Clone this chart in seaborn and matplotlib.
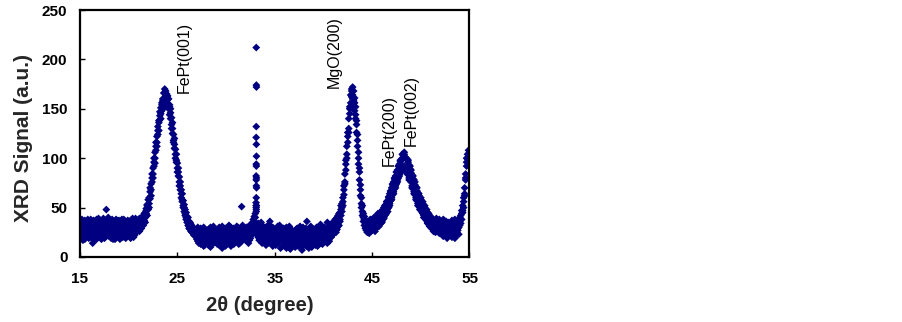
import numpy as np
import pandas as pd
import matplotlib
matplotlib.use("Agg")
import matplotlib.pyplot as plt
import seaborn as sns

# ---------------- data ----------------
two_theta = np.round(np.arange(150, 551) / 10, 1)   # scan axis, 0.1 deg steps

scan_a = [
    28, 35, 22, 31, 19, 37, 26, 30, 24, 33,
    21, 29, 36, 14, 27, 32, 23, 38, 25, 30,
    34, 20, 27, 31, 39, 24, 29, 48, 22, 33,
    26, 36, 19, 30, 28, 35, 23, 31, 37, 21,
    29, 33, 25, 38, 20, 31, 27, 35, 24, 30,
    36, 22, 32, 28, 39, 25, 33, 30, 27, 37,
    30, 35, 28, 38, 33, 41, 37, 45, 44, 52,
    50, 60, 59, 74, 76, 90, 92, 106, 108, 122,
    124, 138, 139, 151, 148, 160, 155, 166, 158, 165,
    163, 152, 154, 140, 141, 125, 124, 110, 109, 96,
    95, 82, 81, 68, 68, 56, 57, 46, 48, 38,
    41, 32, 36, 28, 33, 25, 30, 22, 28, 21,
    18, 26, 14, 23, 29, 17, 21, 27, 12, 24,
    20, 15, 28, 22, 10, 25, 19, 31, 16, 23,
    27, 13, 21, 30, 18, 24, 9, 22, 28, 17,
    21, 26, 15, 32, 20, 11, 25, 19, 29, 22,
    16, 24, 30, 19, 27, 22, 51, 18, 26, 21,
    28, 19, 25, 31, 17, 30, 22, 35, 38, 41,
    44, 48, 26, 20, 31, 18, 27, 14, 30, 22,
    25, 12, 29, 19, 33, 16, 24, 28, 11, 22,
    18, 27, 13, 31, 20, 24, 9, 26, 17, 29,
    15, 23, 30, 12, 21, 27, 8, 19, 25, 16,
    22, 10, 28, 17, 24, 13, 31, 20, 7, 26,
    18, 25, 14, 36, 21, 9, 27, 16, 23, 12,
    28, 15, 22, 30, 11, 25, 19, 33, 14, 24,
    21, 30, 16, 27, 35, 19, 29, 24, 33, 27,
    35, 24, 38, 27, 40, 31, 44, 38, 52, 46,
    60, 63, 84, 88, 112, 116, 140, 145, 164, 162,
    172, 158, 161, 140, 138, 112, 106, 78, 73, 50,
    52, 36, 41, 29, 36, 25, 33, 24, 38, 26,
    38, 28, 40, 26, 41, 30, 44, 31, 45, 34,
    44, 38, 50, 42, 53, 45, 57, 50, 64, 57,
    70, 63, 76, 69, 82, 74, 88, 80, 94, 86,
    98, 91, 103, 92, 101, 90, 99, 86, 93, 79,
    85, 72, 79, 66, 73, 60, 67, 54, 62, 50,
    58, 46, 54, 42, 50, 40, 46, 35, 43, 32,
    40, 29, 38, 26, 36, 25, 39, 28, 34, 24,
    36, 25, 33, 21, 37, 27, 30, 19, 35, 28,
    26, 34, 20, 31, 24, 38, 22, 33, 27, 35,
    40, 34, 47, 45, 60, 62, 84, 92, 104, 98,
    104,
]

scan_b = [
    20, 31, 38, 25, 33, 18, 29, 36, 22, 27,
    34, 24, 19, 30, 37, 22, 33, 18, 29, 39,
    23, 30, 18, 35, 26, 33, 20, 28, 36, 25,
    32, 22, 28, 38, 18, 26, 34, 21, 29, 24,
    37, 18, 31, 24, 35, 22, 29, 19, 33, 26,
    24, 34, 19, 31, 25, 36, 22, 39, 31, 26,
    36, 26, 38, 29, 41, 32, 44, 35, 49, 42,
    58, 50, 70, 62, 84, 80, 100, 95, 116, 112,
    132, 128, 147, 140, 156, 150, 166, 152, 168, 154,
    154, 160, 144, 150, 130, 136, 116, 120, 100, 104,
    86, 90, 72, 76, 60, 64, 50, 53, 42, 45,
    35, 40, 29, 35, 26, 31, 24, 29, 22, 27,
    24, 16, 28, 20, 13, 26, 18, 30, 22, 15,
    27, 19, 12, 24, 30, 17, 22, 14, 26, 20,
    15, 25, 19, 12, 27, 21, 31, 16, 24, 11,
    25, 18, 29, 14, 23, 30, 17, 26, 13, 28,
    22, 31, 17, 26, 14, 29, 23, 32, 19, 27,
    17, 27, 21, 14, 28, 19, 33, 24, 29, 33,
    35, 46, 22, 33, 17, 28, 35, 20, 26, 15,
    30, 20, 14, 27, 22, 36, 18, 13, 30, 25,
    23, 12, 28, 20, 15, 32, 22, 17, 11, 24,
    28, 17, 9, 25, 18, 31, 22, 13, 27, 20,
    13, 26, 20, 29, 11, 22, 17, 25, 19, 30,
    24, 12, 29, 19, 27, 15, 22, 31, 10, 20,
    16, 26, 20, 13, 28, 22, 17, 29, 24, 20,
    28, 17, 26, 21, 14, 30, 22, 33, 20, 31,
    26, 36, 30, 38, 28, 42, 32, 36, 42, 54,
    52, 72, 74, 98, 100, 126, 126, 152, 152, 170,
    160, 168, 148, 152, 126, 124, 94, 90, 62, 60,
    42, 44, 32, 38, 27, 35, 28, 36, 27, 37,
    30, 36, 28, 38, 30, 40, 32, 42, 35, 44,
    36, 46, 40, 50, 44, 56, 49, 61, 54, 67,
    60, 73, 66, 79, 72, 86, 78, 92, 84, 97,
    90, 100, 92, 104, 91, 99, 86, 96, 80, 89,
    76, 83, 69, 78, 63, 71, 57, 65, 52, 60,
    48, 56, 44, 51, 40, 48, 37, 45, 34, 42,
    32, 40, 30, 38, 28, 37, 26, 35, 29, 38,
    27, 34, 24, 38, 29, 22, 36, 26, 33, 24,
    33, 22, 37, 27, 32, 19, 35, 25, 31, 23,
    32, 42, 38, 52, 50, 70, 78, 100, 96, 108,
    100,
]

scan_c = [
    33, 24, 29, 17, 26, 32, 21, 25, 38, 19,
    25, 38, 27, 22, 32, 18, 28, 26, 34, 22,
    29, 37, 24, 21, 30, 19, 35, 25, 30, 40,
    21, 29, 34, 23, 36, 31, 18, 38, 24, 33,
    24, 30, 36, 21, 27, 38, 22, 30, 28, 37,
    30, 28, 37, 23, 32, 20, 29, 25, 36, 33,
    27, 39, 31, 34, 37, 39, 42, 40, 47, 53,
    48, 54, 66, 68, 80, 84, 96, 100, 112, 116,
    128, 136, 143, 145, 154, 158, 160, 170, 164, 158,
    160, 150, 152, 146, 134, 130, 118, 114, 104, 98,
    90, 86, 76, 72, 64, 58, 52, 50, 44, 40,
    38, 36, 31, 34, 30, 27, 25, 28, 23, 26,
    21, 30, 17, 25, 19, 23, 28, 11, 20, 26,
    14, 22, 26, 18, 21, 29, 13, 24, 19, 27,
    23, 19, 26, 22, 15, 28, 20, 25, 18, 29,
    12, 21, 24, 27, 18, 22, 28, 14, 21, 17,
    27, 18, 22, 13, 21, 25, 16, 28, 22, 24,
    24, 30, 16, 23, 26, 21, 29, 26, 32, 30,
    40, 52, 24, 34, 24, 27, 21, 32, 18, 27,
    17, 27, 23, 14, 28, 21, 29, 20, 25, 18,
    27, 20, 24, 16, 26, 19, 28, 21, 25, 14,
    21, 11, 24, 19, 14, 23, 26, 21, 17, 24,
    19, 23, 15, 22, 26, 18, 25, 10, 23, 17,
    14, 20, 24, 11, 17, 25, 19, 23, 28, 22,
    22, 27, 12, 19, 24, 17, 26, 21, 30, 13,
    16, 24, 29, 19, 25, 23, 16, 28, 30, 22,
    30, 27, 34, 25, 35, 39, 36, 45, 48, 50,
    56, 68, 76, 94, 104, 122, 130, 150, 156, 168,
    164, 160, 156, 144, 134, 118, 100, 86, 68, 54,
    46, 40, 38, 32, 30, 33, 27, 35, 29, 30,
    32, 34, 33, 35, 37, 36, 38, 40, 39, 38,
    35, 48, 39, 52, 43, 56, 46, 60, 52, 66,
    58, 74, 64, 80, 70, 86, 76, 92, 82, 98,
    86, 104, 90, 106, 88, 100, 84, 98, 78, 92,
    88, 70, 82, 64, 76, 58, 70, 52, 64, 48,
    60, 46, 56, 40, 52, 38, 48, 34, 44, 31,
    36, 35, 33, 34, 31, 33, 30, 32, 31, 30,
    31, 30, 28, 32, 27, 33, 29, 31, 26, 32,
    30, 27, 31, 29, 28, 30, 27, 32, 29, 30,
    36, 38, 44, 47, 56, 64, 80, 96, 100, 104,
    108,
]

# narrow substrate spike near 33 deg
spike_angle = [33.10, 33.11, 33.12, 33.10, 33.09, 33.11, 33.12, 33.10, 33.11,
               33.09, 33.12, 33.10, 33.11, 33.13, 33.10, 33.08, 33.11, 33.09]
spike_signal = [212, 174, 172, 132, 121, 114, 102, 94, 92,
                82, 80, 78, 72, 70, 60, 55, 52, 50]

peak_labels = ["FePt(001)", "MgO(200)", "FePt(200)", "FePt(002)"]
label_angle = [25.75, 41.08, 46.73, 48.99]
label_signal = [166, 171, 92, 112]

x_ticks = [15, 25, 35, 45, 55]
y_ticks = [0, 50, 100, 150, 200, 250]

# ---------------- plot ----------------
frames = [pd.DataFrame({"angle": two_theta, "signal": s}) for s in (scan_a, scan_b, scan_c)]
frames.append(pd.DataFrame({"angle": spike_angle, "signal": spike_signal}))
df = pd.concat(frames, ignore_index=True)

sns.set_style("ticks")
plt.rcParams["font.family"] = ["Liberation Sans", "DejaVu Sans"]

fig = plt.figure(figsize=(9.03, 3.22), dpi=100)
ax = fig.add_axes([80 / 903, 1 - 257 / 322, 389.5 / 903, 247 / 322])

sns.scatterplot(data=df, x="angle", y="signal", marker="D", s=16,
                color="#000080", edgecolor="none", linewidth=0, ax=ax)

ax.set_xlim(15, 55)
ax.set_ylim(0, 250)
ax.set_xticks(x_ticks)
ax.set_yticks(y_ticks)
ax.tick_params(axis="both", direction="in", length=3.5, width=1, colors="black",
               labelsize=11)
ax.tick_params(axis="y", pad=9)
ax.tick_params(axis="x", pad=11)
for lbl in ax.get_xticklabels() + ax.get_yticklabels():
    lbl.set_fontweight("bold")

for sp in ax.spines.values():
    sp.set_linewidth(1.6)
    sp.set_color("black")

ax.set_xlabel("2θ (degree)", fontsize=14.5, fontweight="bold")
ax.set_ylabel("XRD Signal (a.u.)", fontsize=15, fontweight="bold")
ax.xaxis.set_label_coords((260 - 80) / 389.5, (257 - 296) / 247)
ax.yaxis.set_label_coords((33 - 80) / 389.5, (257 - 138.5) / 247)

for txt, xa, ya in zip(peak_labels, label_angle, label_signal):
    ax.text(xa, ya, txt, rotation=90, ha="center", va="bottom", fontsize=11.5,
            color="black")

fig.savefig("out.png", dpi=100)
